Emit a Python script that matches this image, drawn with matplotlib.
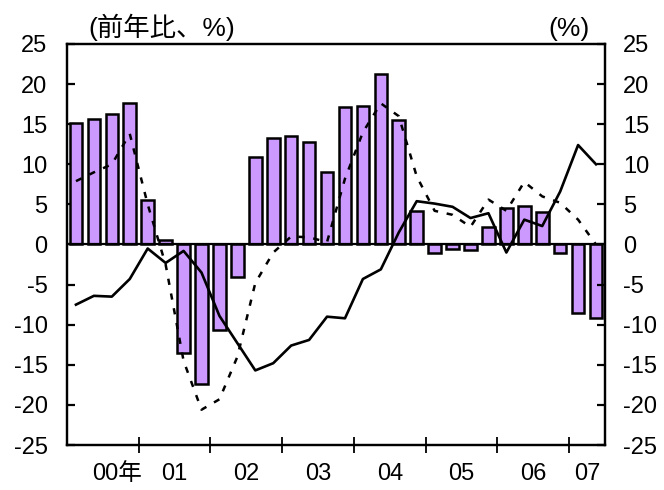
import numpy as np
import matplotlib
matplotlib.use("Agg")
import matplotlib.pyplot as plt

plt.rcParams['font.family'] = ['Liberation Sans', 'Noto Sans CJK JP', 'DejaVu Sans']

# quarterly, 2000Q1 .. 2007Q2
bars = [15.2, 15.6, 16.3, 17.6, 5.5, 0.5, -13.5, -17.4, -10.7, -4.0,
        10.9, 13.3, 13.5, 12.8, 9.0, 17.2, 17.3, 21.2, 15.5, 4.2,
        -1.0, -0.6, -0.7, 2.2, 4.5, 4.8, 4.0, -1.0, -8.5, -9.2]
solid = [-7.5, -6.4, -6.5, -4.3, -0.5, -2.3, -0.8, -3.5, -8.9, -12.3,
         -15.7, -14.8, -12.6, -11.9, -9.0, -9.2, -4.3, -3.1, 1.5, 5.4,
         5.1, 4.7, 3.3, 3.9, -1.0, 3.1, 2.3, 6.6, 12.4, 10.0]
dashed = [7.9, 9.0, 10.0, 13.8, 5.0, -2.5, -14.5, -20.6, -19.3, -14.0,
          -4.8, -1.0, 1.0, 0.9, 0.3, 8.2, 14.0, 17.6, 16.0, 8.5,
          4.2, 3.7, 2.2, 5.6, 4.2, 7.8, 6.0, 5.2, 3.1, 0.0]
year_labels = ['00年', '01', '02', '03', '04', '05', '06', '07']
year_label_pos = [2.3, 5.5, 9.5, 13.5, 17.5, 21.5, 25.5, 28.5]
yticks = list(range(-25, 30, 5))

x = np.arange(len(bars))

fig = plt.figure(figsize=(6.64, 4.90), dpi=100)
ax = fig.add_axes([67 / 664, 45 / 490, 538 / 664, 401 / 490])

ax.bar(x, bars, width=0.7, color='#CC99FF', edgecolor='black', linewidth=1.8, zorder=2)
ax.axhline(0, color='black', linewidth=1.6, zorder=3)
ax.plot(x, dashed, color='black', linewidth=1.8, linestyle=(0, (2.5, 3.5)), zorder=4)
ax.plot(x, solid, color='black', linewidth=1.9, zorder=5)

ax.set_xlim(-0.5, len(bars) - 0.5)
ax.set_ylim(-25, 25)
for s in ax.spines.values():
    s.set_linewidth(1.6)

ax.set_yticks(yticks)
ax.set_yticklabels([str(v) for v in yticks])
ax.tick_params(axis='y', direction='in', length=6, width=1.6, labelsize=17, pad=14)

ax.set_xticks(np.arange(3.5, len(bars) - 1, 4))
ax.set_xticklabels([])
ax.tick_params(axis='x', which='major', direction='inout', length=12, width=1.3)
ax.set_xticks(year_label_pos, minor=True)
ax.set_xticklabels(year_labels, minor=True)
ax.tick_params(axis='x', which='minor', length=0, labelsize=17, pad=13)

ax2 = ax.twinx()
ax2.set_ylim(-25, 25)
ax2.set_yticks(yticks)
ax2.set_yticklabels([str(v) for v in yticks])
ax2.tick_params(axis='y', direction='in', length=6, width=1.6, labelsize=17, pad=13)
for s in ax2.spines.values():
    s.set_linewidth(1.6)

fig.text(88 / 664, 1 - 41 / 490, '(前年比、%)', fontsize=19, ha='left', va='bottom')
fig.text(590 / 664, 1 - 41 / 490, '(%)', fontsize=19, ha='right', va='bottom')

fig.savefig('out.png', dpi=100)
